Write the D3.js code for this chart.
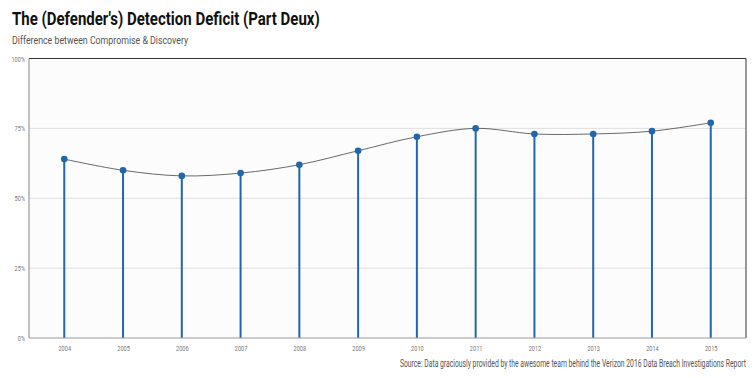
<!DOCTYPE html>
<html><head><meta charset="utf-8">
<script src="https://cdn.jsdelivr.net/npm/d3@7"></script>
<style>body{margin:0;background:#fff}svg{display:block}text{font-family:Roboto,"Noto Sans",sans-serif}</style>
</head><body><svg id="c" width="756" height="378"></svg>
<script>
const years = ["2004","2005","2006","2007","2008","2009","2010","2011","2012","2013","2014","2015"];
const values = [0.64,0.60,0.58,0.59,0.62,0.67,0.72,0.75,0.73,0.73,0.74,0.77];
const yTicks = [0,0.25,0.5,0.75,1];
const title = "The (Defender's) Detection Deficit (Part Deux)";
const subtitle = "Difference between Compromise & Discovery";
const caption = "Source: Data graciously provided by the awesome team behind the Verizon 2016 Data Breach Investigations Report";

const svg = d3.select("#c");
const m = {l:29, r:10, t:58.5, b:40};
const W = 756, H = 378;
const x = d3.scalePoint().domain(years).range([m.l, W-m.r]).padding(0.6);
const y = d3.scaleLinear().domain([0,1]).range([H-m.b, m.t]);

function condense(sel, k){
  sel.each(function(){
    const t = d3.select(this);
    const ax = +t.attr("x") || 0;
    t.attr("transform", `translate(${ax},0) scale(${k},1) translate(${-ax},0)`);
  });
}

svg.append("rect").attr("x",m.l).attr("y",m.t).attr("width",W-m.r-m.l).attr("height",H-m.b-m.t).attr("fill","#fcfcfc");
svg.append("g").selectAll("line").data(yTicks.filter(d=>d>0&&d<1)).join("line")
  .attr("x1",m.l).attr("x2",W-m.r).attr("y1",d=>y(d)).attr("y2",d=>y(d)).attr("stroke","#e0e0e0").attr("stroke-width",1);

const data = years.map((yr,i)=>({yr, v:values[i]}));
svg.append("g").selectAll("line").data(data).join("line")
  .attr("x1",d=>x(d.yr)).attr("x2",d=>x(d.yr)).attr("y1",y(0)).attr("y2",d=>y(d.v))
  .attr("stroke","#2166ac").attr("stroke-width",2);
svg.append("path").datum(data).attr("fill","none").attr("stroke","#444").attr("stroke-width",0.8)
  .attr("d", d3.line().x(d=>x(d.yr)).y(d=>y(d.v)).curve(d3.curveCatmullRom));
svg.append("g").selectAll("circle").data(data).join("circle")
  .attr("cx",d=>x(d.yr)).attr("cy",d=>y(d.v)).attr("r",3.3).attr("fill","#2166ac");

svg.append("line").attr("x1",m.l).attr("x2",W-m.r).attr("y1",m.t).attr("y2",m.t).attr("stroke","#333").attr("stroke-width",1);
svg.append("line").attr("x1",W-m.r).attr("x2",W-m.r).attr("y1",m.t).attr("y2",H-m.b).attr("stroke","#333").attr("stroke-width",1);
svg.append("line").attr("x1",m.l).attr("x2",m.l).attr("y1",m.t).attr("y2",H-m.b).attr("stroke","#999").attr("stroke-width",1.2);
svg.append("line").attr("x1",m.l).attr("x2",W-m.r).attr("y1",H-m.b).attr("y2",H-m.b).attr("stroke","#999").attr("stroke-width",1.2);

const ya = svg.append("g").attr("transform",`translate(${m.l-4},0)`)
  .call(d3.axisLeft(y).tickValues(yTicks).tickFormat(d3.format(".0%")).tickSize(0));
ya.select(".domain").remove();
ya.selectAll("text").attr("font-size",8).attr("fill","#777").attr("x",0).attr("dy","0.32em");
condense(ya.selectAll("text"),0.7);
const xa = svg.append("g").attr("transform",`translate(0,${H-m.b+4})`)
  .call(d3.axisBottom(x).tickSize(0));
xa.select(".domain").remove();
xa.selectAll("text").attr("font-size",8).attr("fill","#777");
condense(xa.selectAll("text"),0.7);

const t1 = svg.append("text").attr("x",12).attr("y",25).attr("font-size",19).attr("font-weight","bold").attr("fill","#111").text(title);
condense(t1,0.79);
const t2 = svg.append("text").attr("x",12).attr("y",44).attr("font-size",11).attr("fill","#555").text(subtitle);
condense(t2,0.8);
const t3 = svg.append("text").attr("x",W-m.r).attr("y",367).attr("text-anchor","end").attr("font-size",10).attr("fill","#555").text(caption);
condense(t3,0.68);
</script></body></html>
